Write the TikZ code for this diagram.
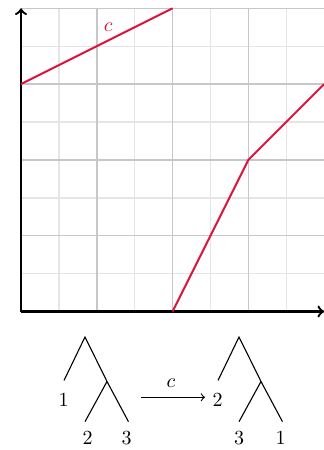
\documentclass[tikz,border=0pt]{standalone}
\definecolor{crimson}{RGB}{220,20,60}
\begin{document}
\begin{tikzpicture}[x=0.5pt,y=-0.5pt,
  minorgrid/.style={draw=black!10, line width=0.7pt},
  majorgrid/.style={draw=black!22, line width=0.7pt},
  axis/.style={line width=1.2pt, ->},
  curve/.style={draw=crimson, line width=1pt},
  branch/.style={line width=0.55pt},
  lbl/.style={inner sep=0pt}]
\useasboundingbox (0,0) rectangle (324,450);
\begin{scope}[shift={(10.5pt,-155.75pt)}, x=18.95pt, y=18.95pt]
  \foreach \i in {1,3,5,7} {
    \draw[minorgrid] (\i,0) -- (\i,8);
    \draw[minorgrid] (0,\i) -- (8,\i);
  }
  \foreach \i in {2,4,6,8} {
    \draw[majorgrid] (\i,0) -- (\i,8);
    \draw[majorgrid] (0,\i) -- (8,\i);
  }
  \coordinate (O) at (0,0);
  \coordinate (ytop) at (0,8);
  \coordinate (xend) at (8,0);
  \draw[axis] (O) -- (ytop);
  \draw[axis] (O) -- (xend);
  \coordinate (p1) at (0,6);
  \coordinate (p2) at (4,8);
  \coordinate (q1) at (4,0);
  \coordinate (q2) at (6,4);
  \coordinate (q3) at (8,6);
  \draw[curve] (p1) -- (p2);
  \draw[curve] (q1) -- (q2) -- (q3);
  \node[text=crimson, lbl] (clbl) at (2.3,7.5) {$c$};
\end{scope}
% left tree
\coordinate (A1) at (85,337);
\coordinate (E1) at (64,380.5);
\coordinate (I1) at (107,381.5);
\coordinate (E2) at (85,421.7);
\coordinate (E3) at (128.5,421.7);
\draw[branch] (E1) -- (A1) -- (I1) -- (E3);
\draw[branch] (I1) -- (E2);
\node[lbl] (n1) at (63.5,400) {1};
\node[lbl] (n2) at (87.5,438) {2};
\node[lbl] (n3) at (126.5,438) {3};
% right tree
\coordinate (B1) at (239,337);
\coordinate (F1) at (218,380.5);
\coordinate (J1) at (261,381.5);
\coordinate (F2) at (239,421.7);
\coordinate (F3) at (282.5,421.7);
\draw[branch] (F1) -- (B1) -- (J1) -- (F3);
\draw[branch] (J1) -- (F2);
\node[lbl] (m2) at (217.7,400) {2};
\node[lbl] (m3) at (239,438) {3};
\node[lbl] (m1) at (280.7,438) {1};
% arrow
\coordinate (as) at (141,397.3);
\coordinate (ae) at (205,397.3);
\draw[->, line width=0.55pt] (as) -- (ae);
\node[lbl] (alab) at (171,383) {$c$};
\end{tikzpicture}
\end{document}
